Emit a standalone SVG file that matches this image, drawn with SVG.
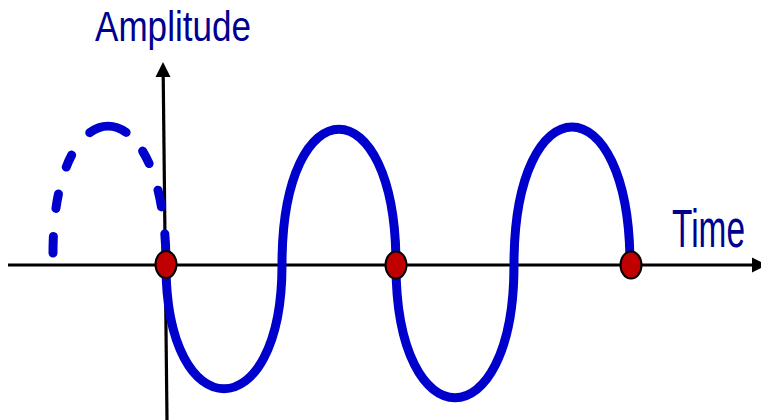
<svg xmlns="http://www.w3.org/2000/svg" width="761" height="420" viewBox="0 0 761 420">
<style>
.axis{stroke:#000;stroke-width:3.2;fill:none}
.wave{stroke:#0000CC;stroke-width:9;fill:none}
.dot{fill:#C00000;stroke:#000;stroke-width:2}
.lbl{font-family:"Liberation Sans",Arial,sans-serif;fill:#000090}
</style>
<rect width="761" height="420" fill="#fff"/>
<g id="connectors">
<line class="axis" x1="8" y1="265" x2="753" y2="265"/>
<polygon points="752,257.5 767,265 752,272.5" fill="#000"/>
<line class="axis" x1="167" y1="420" x2="163.2" y2="75"/>
<polygon points="155.5,77 170.5,77 163,62" fill="#000"/>
</g>
<g id="dashed-wave">
<path class="wave" stroke-linecap="round" pathLength="310" stroke-dasharray="16.5 28 14.5 28 13 29 39 25 14 28 17 27 40" d="M53,253 C53,82 166,82 166,265"/>
</g>
<g id="wave">
<path class="wave" d="M166,265 C166,430 282,430 282,265 C282,84 396,84 396,265 C396,442 514,442 514,265 C514,81 630,81 630,265"/>
</g>
<g id="dot1"><ellipse class="dot" cx="166" cy="264.5" rx="10.5" ry="13.5"/></g>
<g id="dot2"><ellipse class="dot" cx="396" cy="265" rx="10.5" ry="13.5"/></g>
<g id="dot3"><ellipse class="dot" cx="631" cy="265" rx="10.5" ry="13.5"/></g>
<g id="label-amplitude"><text class="lbl" x="95" y="41" font-size="43" textLength="156" lengthAdjust="spacingAndGlyphs">Amplitude</text></g>
<g id="label-time"><text class="lbl" x="672" y="247" font-size="54" textLength="73" lengthAdjust="spacingAndGlyphs">Time</text></g>
</svg>
